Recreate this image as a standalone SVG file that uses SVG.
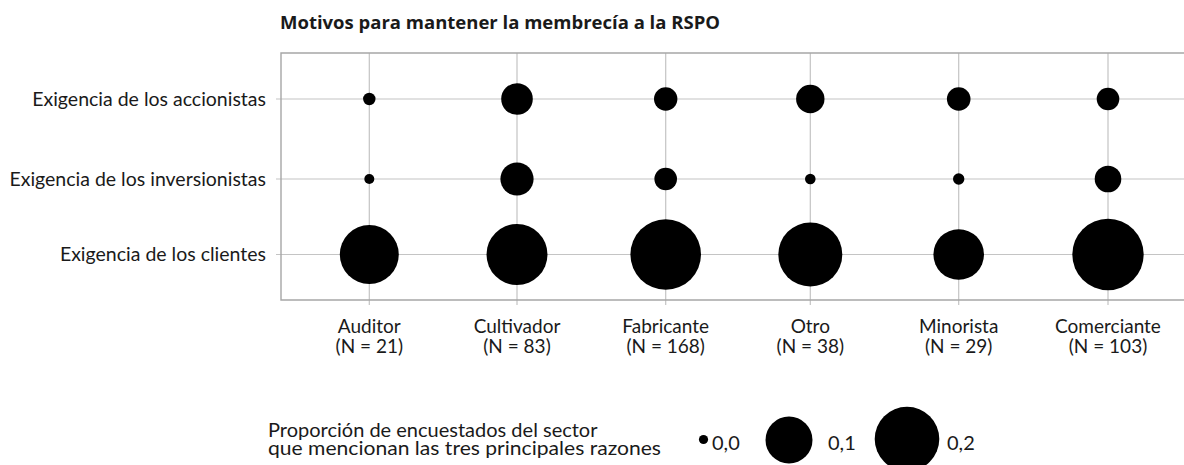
<svg xmlns="http://www.w3.org/2000/svg" width="1184" height="465" viewBox="0 0 1184 465">
<style>
text{font-family:Lato,"Open Sans","Liberation Sans",sans-serif;fill:#1a1a1a}
.t{font-family:"Open Sans",Lato,sans-serif;font-size:18.5px;font-weight:bold}
.lab{font-size:20px}
.row{font-size:19.5px;text-anchor:end}
.col{font-size:19px;text-anchor:middle}
.grid{stroke:#c4c4c4;stroke-width:1.2;fill:none}
.frame{stroke:#a6a6a6;stroke-width:1.4;fill:none}
circle{fill:#000}
</style>
<rect width="1184" height="465" fill="#fff"/>
<text class="t" x="280" y="28.5">Motivos para mantener la membrecía a la RSPO</text>
<g id="grid">
<path class="grid" d="M276 99H1184M276 179H1184M276 254.5H1184"/>
<path class="grid" d="M369.3 53V305M517 53V305M665.7 53V305M810.3 53V305M958.7 53V305M1108 53V305"/>
<path class="frame" d="M1184 53H281V300H1184"/>
</g>
<g id="row-labels">
<text class="row" x="266" y="105.5">Exigencia de los accionistas</text>
<text class="row" x="266" y="185.5">Exigencia de los inversionistas</text>
<text class="row" x="266" y="261">Exigencia de los clientes</text>
</g>
<g id="col-labels">
<text class="col" x="369.3" y="332.5">Auditor</text><text class="col" x="369.3" y="353">(N = 21)</text>
<text class="col" x="517" y="332.5">Cultivador</text><text class="col" x="517" y="353">(N = 83)</text>
<text class="col" x="665.7" y="332.5">Fabricante</text><text class="col" x="665.7" y="353">(N = 168)</text>
<text class="col" x="810.3" y="332.5">Otro</text><text class="col" x="810.3" y="353">(N = 38)</text>
<text class="col" x="958.7" y="332.5">Minorista</text><text class="col" x="958.7" y="353">(N = 29)</text>
<text class="col" x="1108" y="332.5">Comerciante</text><text class="col" x="1108" y="353">(N = 103)</text>
</g>
<g id="auditor">
<circle cx="369.3" cy="99" r="6.2"/><circle cx="369.3" cy="179" r="5"/><circle cx="369.3" cy="254.5" r="29.5"/>
</g>
<g id="cultivador">
<circle cx="517" cy="99" r="15.8"/><circle cx="517" cy="179" r="16.6"/><circle cx="517" cy="254.5" r="30.5"/>
</g>
<g id="fabricante">
<circle cx="665.7" cy="99" r="11.7"/><circle cx="665.7" cy="179" r="11.3"/><circle cx="665.7" cy="254.5" r="35.3"/>
</g>
<g id="otro">
<circle cx="810.3" cy="99" r="14.2"/><circle cx="810.3" cy="179" r="5.3"/><circle cx="810.3" cy="254.5" r="32"/>
</g>
<g id="minorista">
<circle cx="958.7" cy="99" r="11.8"/><circle cx="958.7" cy="179" r="5.7"/><circle cx="958.7" cy="254.5" r="25.3"/>
</g>
<g id="comerciante">
<circle cx="1108" cy="99" r="11.3"/><circle cx="1108" cy="179" r="13.3"/><circle cx="1108" cy="254.5" r="35.7"/>
</g>
<g id="legend">
<text class="lab" x="268" y="436.5">Proporción de encuestados del sector</text>
<text class="lab" x="268" y="455" textLength="393" lengthAdjust="spacingAndGlyphs">que mencionan las tres principales razones</text>
<circle cx="703.5" cy="439.5" r="4.6"/>
<text class="lab" x="712" y="450">0,0</text>
<circle cx="789" cy="440" r="23.5"/>
<text class="lab" x="828" y="450">0,1</text>
<circle cx="907" cy="439" r="32.3"/>
<text class="lab" x="947" y="450">0,2</text>
</g>
</svg>
